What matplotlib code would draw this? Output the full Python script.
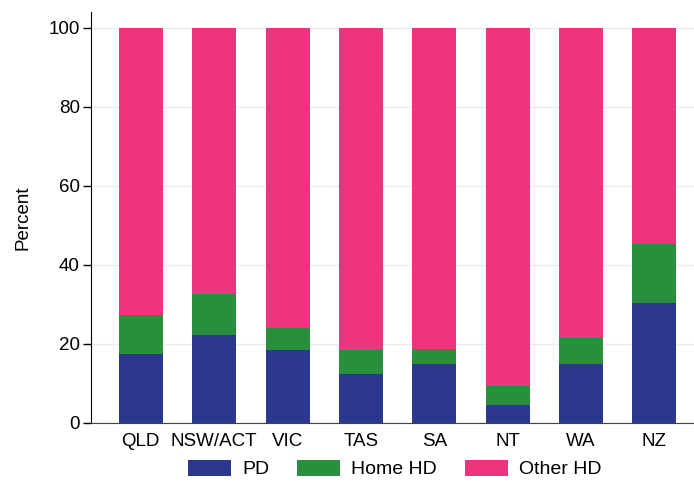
import numpy as np
import matplotlib.pyplot as plt

plt.rcParams['font.family'] = ['Liberation Sans', 'DejaVu Sans']

regions = ["QLD", "NSW/ACT", "VIC", "TAS", "SA", "NT", "WA", "NZ"]
pd_pct = [17.4, 22.2, 18.4, 12.3, 14.9, 4.5, 14.9, 30.3]
home_hd_pct = [9.8, 10.5, 5.6, 6.1, 3.7, 4.9, 6.5, 14.9]
other_hd_pct = [100 - a - b for a, b in zip(pd_pct, home_hd_pct)]

c_pd = "#2c378f"
c_home = "#2a8f3c"
c_other = "#ee347e"

fig = plt.figure(figsize=(6.94, 4.86), dpi=100)
ax = fig.add_axes([0.131, 0.130, 0.869, 0.845])

x = np.arange(len(regions))
w = 0.6
ax.bar(x, pd_pct, w, color=c_pd, label="PD", zorder=2)
ax.bar(x, home_hd_pct, w, bottom=pd_pct, color=c_home, label="Home HD", zorder=2)
bottom2 = [a + b for a, b in zip(pd_pct, home_hd_pct)]
ax.bar(x, other_hd_pct, w, bottom=bottom2, color=c_other, label="Other HD", zorder=2)

ax.set_xlim(-0.68, 7.54)
ax.set_ylim(0, 104)
ax.set_yticks([0, 20, 40, 60, 80, 100])
ax.set_xticks(x)
ax.set_xticklabels(regions)
ax.yaxis.grid(True, color="#e8eeee", linewidth=1, zorder=0)
ax.set_ylabel("Percent", fontsize=13.5, labelpad=12)
ax.tick_params(axis='y', labelsize=13.5, length=6, width=1, pad=2)
ax.tick_params(axis='x', labelsize=13.5, length=0, pad=7)
for s in ["top", "right"]:
    ax.spines[s].set_visible(False)
ax.spines["bottom"].set_color("#444444")

fig.legend(loc="center", bbox_to_anchor=(0.569, 0.035), ncol=3, frameon=False,
           fontsize=14, handlelength=2.2, handleheight=0.9, columnspacing=1.45,
           handletextpad=0.57, borderaxespad=0, borderpad=0)

fig.savefig("out.png", dpi=100)
